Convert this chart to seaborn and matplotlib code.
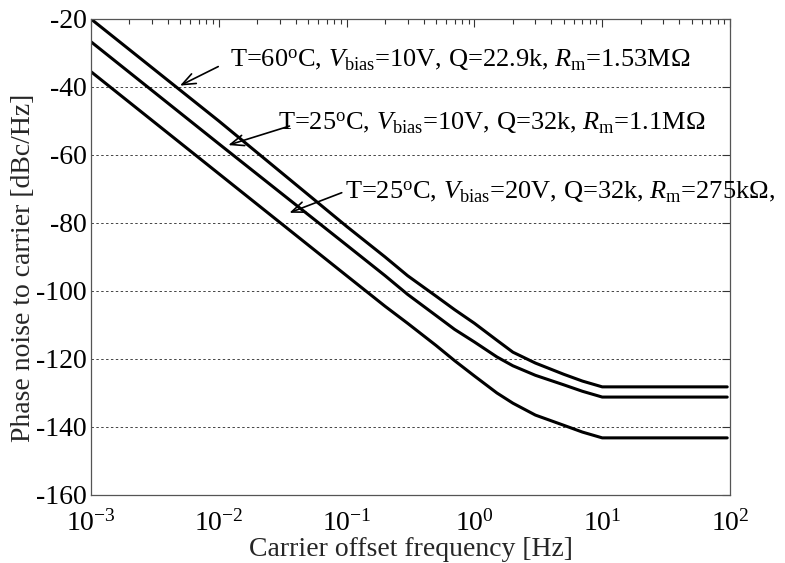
import math
import matplotlib
matplotlib.use("Agg")
import matplotlib.pyplot as plt
from matplotlib.ticker import LogLocator, FuncFormatter, NullFormatter
import seaborn as sns
import pandas as pd

# Offset frequencies [Hz] and phase-noise curves [dBc/Hz]
freq_hz = [0.001, 0.01, 0.1, 0.2, 0.3, 0.5, 0.7, 1, 1.5, 2, 3, 5, 7, 10, 95]
pn_60c_10v = [-20.0, -50.0, -81.0, -90.0, -95.5, -101.5, -105.5, -109.5, -114.5, -118.0, -121.2, -124.5, -126.5, -128.2, -128.2]
pn_25c_10v = [-26.7, -56.7, -86.5, -95.5, -101.0, -107.2, -111.3, -115.0, -119.4, -122.0, -124.8, -127.6, -129.5, -131.2, -131.2]
pn_25c_20v = [-35.5, -65.5, -95.5, -104.5, -109.5, -116.0, -120.5, -125.0, -130.0, -133.0, -136.5, -139.5, -141.5, -143.2, -143.2]

labels = [
    "T=60$^{\\mathrm{o}}$C, $V_{\\mathrm{bias}}$=10V, Q=22.9k, $R_{\\mathrm{m}}$=1.53M$\\Omega$",
    "T=25$^{\\mathrm{o}}$C, $V_{\\mathrm{bias}}$=10V, Q=32k, $R_{\\mathrm{m}}$=1.1M$\\Omega$",
    "T=25$^{\\mathrm{o}}$C, $V_{\\mathrm{bias}}$=20V, Q=32k, $R_{\\mathrm{m}}$=275k$\\Omega$,",
]
yticks = [-160, -140, -120, -100, -80, -60, -40, -20]

sns.set_theme(style="white")
plt.rcParams["font.family"] = ["Liberation Serif", "DejaVu Serif"]
plt.rcParams["mathtext.fontset"] = "custom"
plt.rcParams["mathtext.rm"] = "Liberation Serif"
plt.rcParams["mathtext.it"] = "Liberation Serif:italic"
plt.rcParams["mathtext.bf"] = "Liberation Serif:bold"

fig = plt.figure(figsize=(7.85, 5.63), dpi=100)
ax = fig.add_axes([0.1159, 0.1208, 0.8141, 0.8455])

df = pd.DataFrame({
    "freq": freq_hz * 3,
    "pn": pn_60c_10v + pn_25c_10v + pn_25c_20v,
    "case": [labels[0]] * len(freq_hz) + [labels[1]] * len(freq_hz) + [labels[2]] * len(freq_hz),
})
sns.lineplot(data=df, x="freq", y="pn", hue="case", palette=["black"] * 3,
             estimator=None, sort=False, linewidth=2.2, legend=False, ax=ax)

ax.set_xscale("log")
ax.set_xlim(1e-3, 1e2)
ax.set_ylim(-160, -20)
ax.set_yticks(yticks)
ax.set_yticklabels([str(v) for v in yticks])
ax.yaxis.grid(True, linestyle=(0, (2.5, 2.5)), linewidth=0.7, color="#444444")
ax.xaxis.grid(False)

ax.xaxis.set_major_locator(LogLocator(base=10, numticks=10))
ax.xaxis.set_minor_locator(LogLocator(base=10, subs=range(2, 10), numticks=20))
ax.xaxis.set_minor_formatter(NullFormatter())
ax.xaxis.set_major_formatter(FuncFormatter(lambda v, p: "$10^{%d}$" % round(math.log10(v))))

ax.tick_params(axis="both", which="both", direction="in", top=True, right=True,
               labelsize=20, colors="#333333", labelcolor="black")
ax.tick_params(axis="both", which="major", length=6, width=0.8)
ax.tick_params(axis="x", which="minor", length=3.5, width=0.8)
ax.tick_params(axis="x", which="major", pad=11)
ax.tick_params(axis="y", which="major", pad=3)

for s in ax.spines.values():
    s.set_color("#555555")
    s.set_linewidth(0.9)

ax.set_xlabel("Carrier offset frequency [Hz]", fontsize=20, labelpad=0)
ax.set_ylabel("Phase noise to carrier [dBc/Hz]", fontsize=20)
ax.yaxis.set_label_coords(-0.086, 0.477)

# Arrows (head, tail) and label anchors for each curve
arrow_heads = [(0.00497, -39.6), (0.01187, -57.1), (0.0357, -77.0)]
arrow_tails = [(0.0099, -34.0), (0.0357, -51.5), (0.0916, -71.1)]
text_anchors = [(0.01224, -32.1), (0.029, -50.6), (0.0971, -70.8)]

for head, tail, anchor, lab in zip(arrow_heads, arrow_tails, text_anchors, labels):
    ax.annotate("", xy=head, xytext=tail,
                arrowprops=dict(arrowstyle="->,head_length=0.8,head_width=0.32",
                                color="black", linewidth=1.2, shrinkA=0, shrinkB=0))
    ax.text(anchor[0], anchor[1], lab, fontsize=19, ha="left", va="center",
            color="black", clip_on=False)

fig.savefig("out.png", dpi=100)
